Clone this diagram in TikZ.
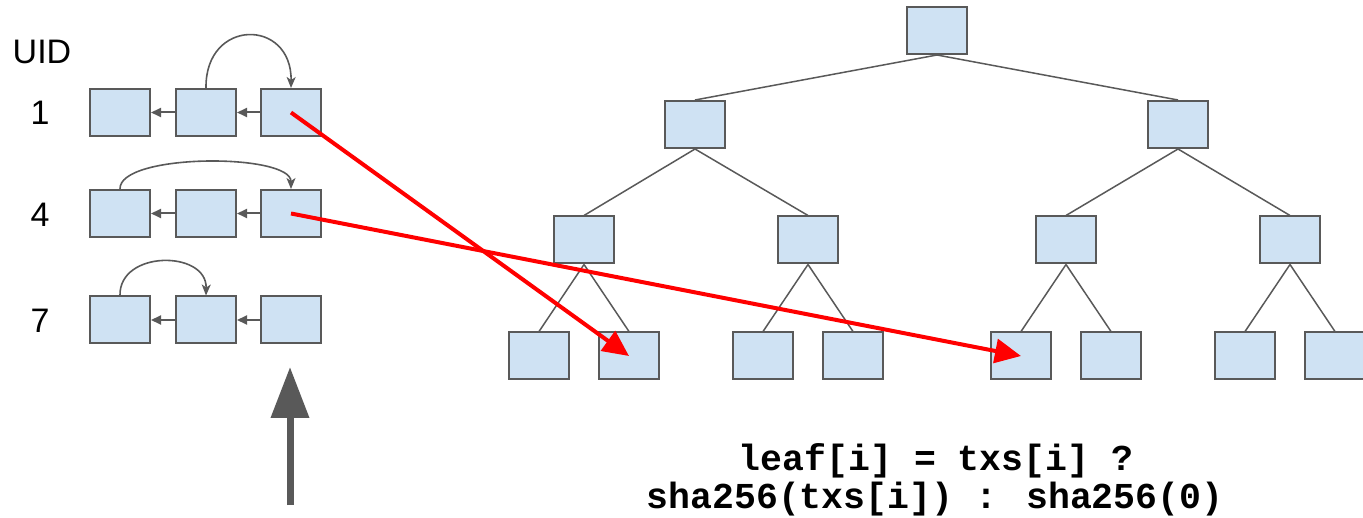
\documentclass[tikz,border=0pt]{standalone}
\usepackage{fontspec}
\setmainfont{Liberation Sans}
\newfontfamily\codefont{Liberation Mono}
\usetikzlibrary{arrows.meta}
\definecolor{boxfill}{HTML}{CFE2F3}
\definecolor{boxline}{HTML}{595959}
\definecolor{redline}{HTML}{FF0000}
\tikzset{
  cell/.style={draw=boxline, fill=boxfill, line width=2pt, minimum width=60pt, minimum height=47pt, inner sep=0pt},
  link/.style={draw=boxline, line width=2pt, -{Triangle[length=10pt,width=9pt]}},
  jump/.style={draw=boxline, line width=1.6pt, -{Stealth[length=11pt,width=9pt,inset=3pt]}},
  edge/.style={draw=boxline, line width=1.5pt},
  hot/.style={draw=redline, line width=4pt, -{Triangle[length=26pt,width=24pt]}},
  lbl/.style={font=\fontsize{34}{34}\selectfont, inner sep=0pt},
  code/.style={font=\codefont\bfseries\fontsize{36.5}{38}\selectfont, inner sep=0pt, anchor=base}
}
\begin{document}
\begin{tikzpicture}[x=1pt,y=-1pt]
\useasboundingbox (0,0) rectangle (1363,518);
% labels
\node[lbl] (uid) at (42,52) {UID};
\node[lbl] (u1) at (40,113) {1};
\node[lbl] (u4) at (40,215) {4};
\node[lbl] (u7) at (40,321) {7};
% lists
\node[cell] (a1) at (120,112.5) {};
\node[cell] (a2) at (206,112.5) {};
\node[cell] (a3) at (291,112.5) {};
\node[cell] (b1) at (120,213.5) {};
\node[cell] (b2) at (206,213.5) {};
\node[cell] (b3) at (291,213.5) {};
\node[cell] (c1) at (120,320) {};
\node[cell] (c2) at (206,320) {};
\node[cell] (c3) at (291,320) {};
\draw[link] (a2.west) -- (a1.east);
\draw[link] (a3.west) -- (a2.east);
\draw[link] (b2.west) -- (b1.east);
\draw[link] (b3.west) -- (b2.east);
\draw[link] (c2.west) -- (c1.east);
\draw[link] (c3.west) -- (c2.east);
\draw[jump] (a2.north) .. controls (205,18) and (292,18) .. (a3.north);
\draw[jump] (b1.north) .. controls (119,153) and (291,153) .. (b3.north);
\draw[jump] (c1.north) .. controls (119,250) and (207,250) .. (c2.north);
% big arrow
\coordinate (bigtail) at (290,505);
\coordinate (bigtip) at (290,367);
\draw[draw=boxline, line width=7pt, -{Triangle[length=51pt,width=37pt]}] (bigtail) -- (bigtip);
% tree
\node[cell] (r) at (937,30.5) {};
\node[cell] (m1) at (695,124.5) {};
\node[cell] (m2) at (1178,124.5) {};
\node[cell] (n1) at (584,240) {};
\node[cell] (n2) at (808,240) {};
\node[cell] (n3) at (1066,240) {};
\node[cell] (n4) at (1290,240) {};
\node[cell] (l1) at (539,356) {};
\node[cell] (l2) at (629,356) {};
\node[cell] (l3) at (763,356) {};
\node[cell] (l4) at (853,356) {};
\node[cell] (l5) at (1021,356) {};
\node[cell] (l6) at (1111,356) {};
\node[cell] (l7) at (1245,356) {};
\node[cell] (l8) at (1335,356) {};
\draw[edge] (r.south) -- (m1.north);
\draw[edge] (r.south) -- (m2.north);
\draw[edge] (m1.south) -- (n1.north);
\draw[edge] (m1.south) -- (n2.north);
\draw[edge] (m2.south) -- (n3.north);
\draw[edge] (m2.south) -- (n4.north);
\draw[edge] (n1.south) -- (l1.north);
\draw[edge] (n1.south) -- (l2.north);
\draw[edge] (n2.south) -- (l3.north);
\draw[edge] (n2.south) -- (l4.north);
\draw[edge] (n3.south) -- (l5.north);
\draw[edge] (n3.south) -- (l6.north);
\draw[edge] (n4.south) -- (l7.north);
\draw[edge] (n4.south) -- (l8.north);
% red arrows
\draw[hot] (a3.center) -- (l2.center);
\draw[hot] (b3.center) -- (l5.center);
% code
\node[code] (t1) at (936,470) {leaf[i] = txs[i] ?};
\node[code] (t2) at (935,508) {sha256(txs[i]) : sha256(0)};
\end{tikzpicture}
\end{document}
